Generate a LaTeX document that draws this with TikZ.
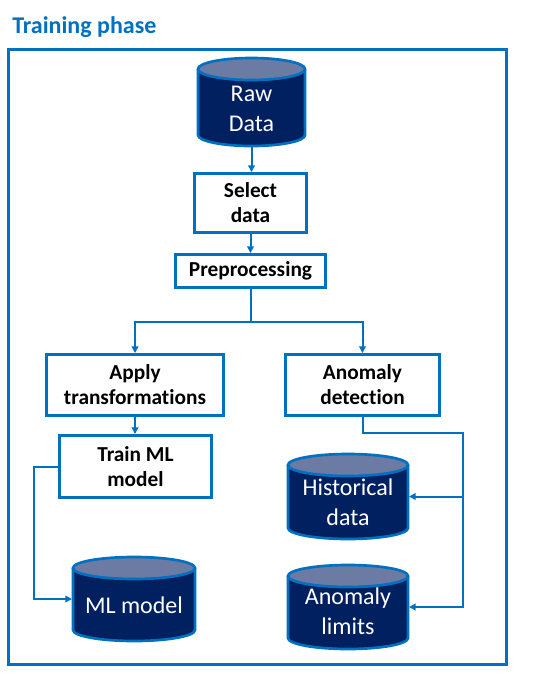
\documentclass[tikz,border=0pt]{standalone}
\usepackage{fontspec}
\setmainfont{Carlito}[Ligatures=NoCommon]
\usetikzlibrary{arrows.meta}
\definecolor{mblue}{HTML}{0070C0}
\definecolor{navy}{HTML}{002060}
\definecolor{cyltopc}{HTML}{6B7BA4}
\tikzset{
 procbox/.style={draw=mblue, line width=2.25pt, fill=white, inner sep=0pt, align=center, font=\fontsize{16}{18.75}\selectfont\bfseries},
 conn/.style={draw=mblue, line width=1.5pt, -{Triangle[length=5pt,width=5pt]}},
 plainconn/.style={draw=mblue, line width=1.5pt},
 cylbody/.style={fill=navy},
 cylline/.style={draw=mblue, line width=2pt},
 cyltop/.style={fill=cyltopc, draw=mblue, line width=2pt},
 cyltext/.style={text=white, align=center, font=\fontsize{18}{22.5}\selectfont, inner sep=0pt},
 frame/.style={draw=mblue, line width=2.25pt},
}
\newcommand{\dbcyl}[7]{%
 \fill[cylbody] ({#2-#3},#4) -- ({#2-#3},#5) arc[start angle=180,end angle=0,x radius=#3,y radius=11] -- ({#2+#3},#4) -- cycle;
 \draw[cylline] ({#2-#3},#4) -- ({#2-#3},#5) arc[start angle=180,end angle=0,x radius=#3,y radius=11] -- ({#2+#3},#4);
 \draw[cyltop] (#2,#4) ellipse[x radius=#3, y radius=11];
 \node[inner sep=0pt, outer sep=0pt, minimum width={2*#3*0.75pt+1.5pt}, minimum height={(#5-#4+22)*0.75pt+1.5pt}] (#1) at (#2,{(#4+#5)/2}) {};
 \node[cyltext] (#1-t) at (#2,#6) {#7};
}
\begin{document}
\begin{tikzpicture}[x=0.75pt, y=-0.75pt]
\useasboundingbox (0,0) rectangle (534,676);
\node[anchor=base west, inner sep=0pt, text=mblue, font=\fontsize{18}{22}\selectfont\bfseries] (title) at (12,33) {Training phase};
\draw[frame] (8.5,49.5) rectangle (506.5,664.5);

\dbcyl{raw}{251.5}{53.5}{69}{135}{109}{Raw\\Data}
\dbcyl{his}{348}{60}{465}{528}{502}{Historical\\data}
\dbcyl{lim}{348}{60}{576}{638}{611}{Anomaly\\limits}
\dbcyl{mlm}{134}{61}{568}{630}{605}{ML model}

\node[procbox, minimum width=84pt, minimum height=44.25pt] (sel) at (250.5,203) {Select\\data};
\node[procbox, minimum width=112.5pt, minimum height=24.75pt] (pre) at (250.5,271) {Preprocessing};
\node[procbox, minimum width=132.75pt, minimum height=45.75pt] (app) at (135,385) {Apply\\transformations};
\node[procbox, minimum width=115.5pt, minimum height=45.75pt] (det) at (362.5,385) {Anomaly\\detection};
\node[procbox, minimum width=114pt, minimum height=46.5pt] (trn) at (135.5,466.5) {Train ML\\model};

\draw[conn] (raw.south) -- (raw.south |- sel.north);
\draw[conn] (sel.south) -- (sel.south |- pre.north);
\coordinate (split) at (251,322);
\draw[plainconn] (pre.south) -- (pre.south |- split);
\draw[conn] (pre.south |- split) -| (app.north);
\draw[conn] (pre.south |- split) -| (det.north);
\draw[conn] (app.south) -- (app.south |- trn.north);
\coordinate (mlbend) at (34,0);
\draw[conn] (trn.west) -- (trn.west -| mlbend) |- (mlm.west);
\coordinate (rbend) at (463,433);
\draw[conn] (det.south) |- (rbend) |- (lim.east);
\draw[conn] (rbend |- his.east) -- (his.east);
\end{tikzpicture}
\end{document}
